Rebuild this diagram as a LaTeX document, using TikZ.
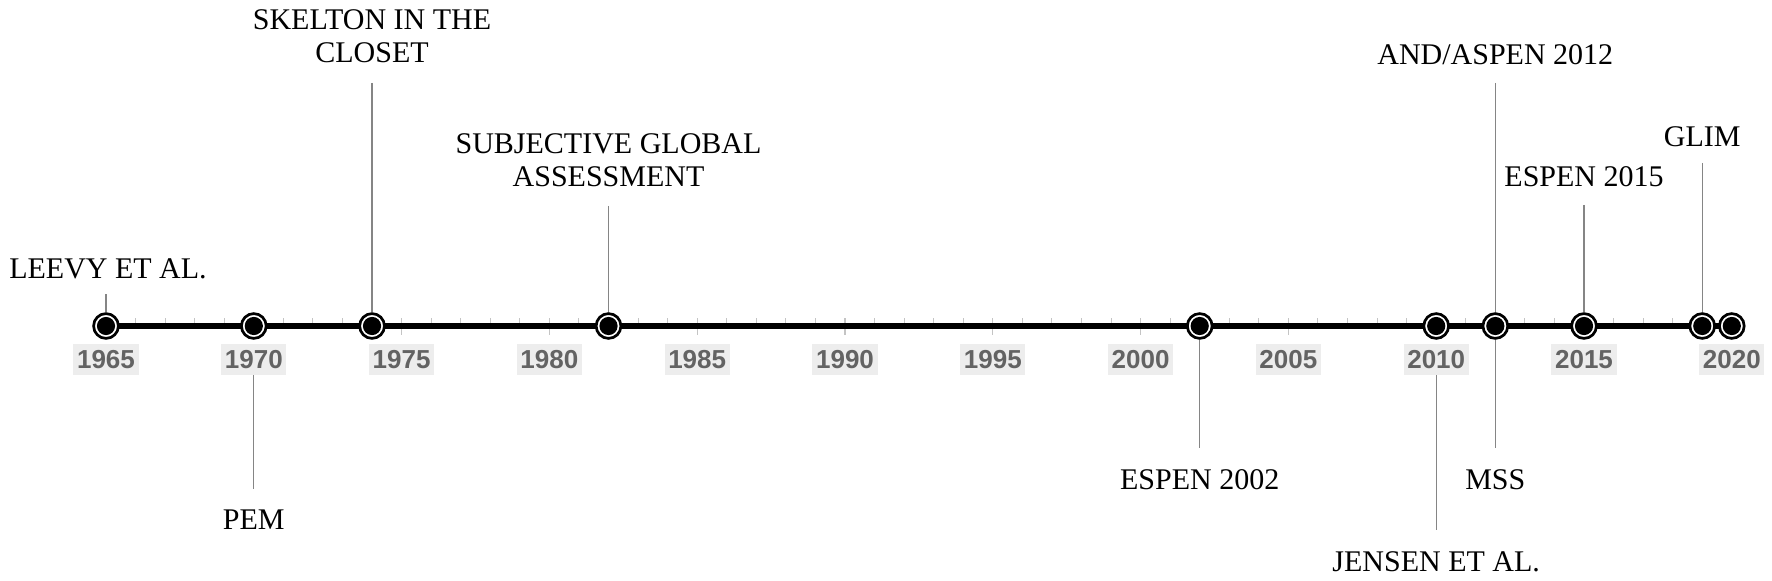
\documentclass[tikz,border=0pt]{standalone}
\usepackage{fontspec}
\setmainfont{Liberation Serif}
\newfontfamily\yearfont{Liberation Sans}
\usetikzlibrary{backgrounds}
\definecolor{leadgray}{HTML}{858585}
\definecolor{tickgray}{HTML}{C4C4C4}
\definecolor{yeartext}{HTML}{636363}
\definecolor{yearbg}{HTML}{EDEDED}
\tikzset{
  evt/.style={circle, draw=black, line width=2.7bp, fill=white, minimum size=24.8bp, inner sep=0pt,
    path picture={\fill[black] (path picture bounding box.center) circle (9.1bp);}},
  yearlab/.style={fill=yearbg, text=yeartext, font=\yearfont\bfseries\fontsize{26bp}{28bp}\selectfont,
    text height=18.7bp, text depth=0bp, inner xsep=3.6bp, inner ysep=6.2bp},
  evlab/.style={font=\fontsize{30bp}{33bp}\selectfont, align=center, inner sep=0pt, text depth=0bp, text height=20bp},
  lead/.style={draw=leadgray, line width=1.3bp},
  minortick/.style={draw=tickgray, line width=1bp},
  majortick/.style={draw=tickgray, line width=1.2bp},
  axisline/.style={draw=black, line width=5.5bp}
}
\newcommand{\YX}[1]{106+29.56*(#1-1965)}
\begin{document}
\begin{tikzpicture}[x=1bp,y=-1bp]
\useasboundingbox (0,0) rectangle (1772,581);
% year labels
\foreach \yr in {1965,1970,...,2020}{
  \node[yearlab] (y\yr) at ({\YX{\yr}},359.5) {\yr};
}
% event circles
\foreach \yr in {1965,1970,1974,1982,2002,2010,2012,2015,2019,2020}{
  \node[evt] (e\yr) at ({\YX{\yr}},326) {};
}
% axis and ticks behind the circles
\begin{scope}[on background layer]
  \fill[white] (0,0) rectangle (1772,581);
  \foreach \yr in {1965,...,2020}{
    \draw[minortick] ({\YX{\yr}},318) -- ({\YX{\yr}},323);
  }
  \foreach \yr in {1965,1970,...,2020}{
    \draw[majortick] ({\YX{\yr}},318) -- ({\YX{\yr}},335);
  }
  \draw[axisline] (e1965.center) -- (e2020.center);
\end{scope}
% labels above
\node[evlab, anchor=south] (lLeevy) at ({\YX{1965}+2},279) {LEEVY ET AL.};
\node[evlab, anchor=south] (lSkel) at ({\YX{1974}},63) {SKELTON IN THE\\CLOSET};
\node[evlab, anchor=south] (lSGA) at ({\YX{1982}},187) {SUBJECTIVE GLOBAL\\ASSESSMENT};
\node[evlab, anchor=south] (lAnd) at ({\YX{2012}},65) {AND/ASPEN 2012};
\node[evlab, anchor=south] (lEsp15) at ({\YX{2015}},187) {ESPEN 2015};
\node[evlab, anchor=south] (lGlim) at ({\YX{2019}},147) {GLIM};
% labels below
\node[evlab, anchor=south] (lPem) at ({\YX{1970}},530) {PEM};
\node[evlab, anchor=south] (lEsp02) at ({\YX{2002}},490) {ESPEN 2002};
\node[evlab, anchor=south] (lJensen) at ({\YX{2010}},572) {JENSEN ET AL.};
\node[evlab, anchor=south] (lMss) at ({\YX{2012}},490) {MSS};
% leader lines
\draw[lead, shorten <=15bp] (lLeevy.south -| e1965) -- (e1965);
\draw[lead, shorten <=20bp] (lSkel.south) -- (e1974);
\draw[lead, shorten <=19bp] (lSGA.south) -- (e1982);
\draw[lead, shorten <=18bp] (lAnd.south) -- (e2012);
\draw[lead, shorten <=18bp] (lEsp15.south) -- (e2015);
\draw[lead, shorten <=16bp] (lGlim.south) -- (e2019);
\draw[lead, shorten >=21bp] (y1970.south) -- (lPem.north);
\draw[lead, shorten >=22bp] (e2002) -- (lEsp02.north);
\draw[lead, shorten >=22bp] (y2010.south) -- (lJensen.north);
\draw[lead, shorten >=22bp] (e2012) -- (lMss.north);
\end{tikzpicture}
\end{document}
